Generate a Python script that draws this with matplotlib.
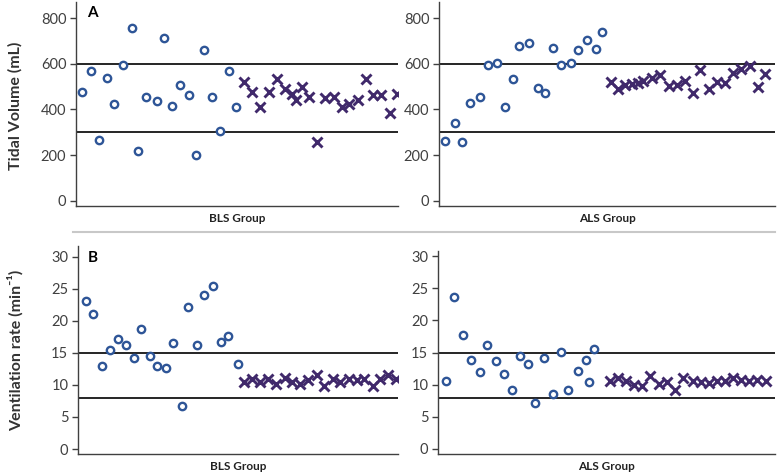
import matplotlib
matplotlib.use('Agg')
import matplotlib.pyplot as plt
from matplotlib.lines import Line2D

plt.rcParams['font.family'] = ['Lato', 'DejaVu Sans']

# x positions in "subject slot" units from each y axis
# --- A: tidal volume (mL) ---
bls_tv_circ_x = [0.8, 1.9, 2.9, 3.9, 4.8, 5.9, 7.0, 7.8, 8.8, 10.1,
                 11.0, 12.0, 13.0, 14.1, 15.0, 16.0, 17.0, 18.0, 19.1, 20.0]
bls_tv_circ = [478, 568, 265, 538, 425, 593, 756, 217, 453, 435,
               711, 416, 507, 463, 199, 659, 453, 305, 568, 412]
bls_tv_cross_x = [21.0, 22.0, 23.0, 24.1, 25.1, 26.1, 27.0, 27.5, 28.2, 29.1, 30.1,
                  31.1, 32.2, 33.2, 34.1, 35.2, 36.2, 37.1, 38.1, 39.2, 40.1]
bls_tv_cross = [520, 476, 410, 478, 532, 491, 469, 441, 498, 456, 258,
                451, 456, 412, 426, 440, 532, 463, 463, 385, 466]

als_tv_circ_x = [0.8, 2.0, 2.9, 3.9, 5.1, 6.1, 7.3, 8.2, 9.3, 10.0,
                 11.2, 12.4, 13.3, 14.3, 15.3, 16.5, 17.4, 18.5, 19.6, 20.4]
als_tv_circ = [263, 340, 256, 429, 456, 595, 602, 412, 533, 678,
               690, 495, 472, 668, 595, 602, 659, 705, 665, 740]
als_tv_cross_x = [21.5, 22.4, 23.3, 24.1, 24.9, 25.5, 26.6, 27.6, 28.7, 29.7, 30.8,
                  31.8, 32.6, 33.7, 34.7, 35.8, 36.8, 37.8, 38.9, 39.9, 40.8]
als_tv_cross = [520, 491, 505, 510, 514, 524, 539, 549, 502, 505, 524,
                470, 573, 488, 520, 514, 558, 579, 590, 500, 554]

# --- B: ventilation rate (min-1) ---
bls_vr_circ_x = [1.0, 1.9, 3.0, 4.0, 5.0, 6.0, 7.0, 7.9, 9.0, 9.9,
                 11.0, 11.9, 13.0, 13.8, 14.9, 15.8, 16.9, 17.9, 18.8, 20.0]
bls_vr_circ = [23.1, 21.1, 12.9, 15.5, 17.2, 16.2, 14.2, 18.7, 14.5, 12.9,
               12.6, 16.6, 6.7, 22.1, 16.3, 24.1, 25.5, 16.7, 17.7, 13.2]
bls_vr_cross_x = [20.8, 21.8, 22.8, 23.8, 24.8, 25.9, 26.8, 27.8, 28.8, 29.9,
                  30.8, 31.9, 32.8, 33.9, 34.9, 35.8, 36.9, 37.8, 38.8, 39.8]
bls_vr_cross = [10.4, 10.9, 10.5, 11.0, 10.2, 11.1, 10.5, 10.1, 10.7, 11.5,
                9.9, 11.0, 10.4, 11.0, 10.8, 11.0, 9.9, 10.9, 11.5, 11.0]

als_vr_circ_x = [1.0, 2.0, 3.1, 4.1, 5.2, 6.1, 7.3, 8.3, 9.3, 10.3,
                 11.3, 12.2, 13.3, 14.4, 15.4, 16.3, 17.5, 18.5, 18.9, 19.5]
als_vr_circ = [10.6, 23.6, 17.7, 13.9, 11.9, 16.2, 13.75, 11.7, 9.1, 14.4,
               13.2, 7.1, 14.1, 8.6, 15.1, 9.1, 12.15, 13.9, 10.4, 15.6]
als_vr_cross_x = [21.5, 22.5, 23.5, 24.5, 25.6, 26.6, 27.7, 28.7, 29.7, 30.7,
                  31.9, 32.9, 33.9, 34.9, 35.9, 36.9, 37.9, 38.9, 40.0, 41.1]
als_vr_cross = [10.5, 11.1, 10.6, 10.0, 9.8, 11.3, 10.1, 10.4, 9.2, 11.1,
                10.5, 10.35, 10.25, 10.5, 10.5, 11.0, 10.8, 10.5, 10.8, 10.6]

tv_limits = [300, 600]
vr_limits = [8, 15]

W, H = 778, 476
fig = plt.figure(figsize=(W / 100, H / 100), dpi=100)


def rect(l, t, r, b):
    return [l / W, 1 - b / H, (r - l) / W, (b - t) / H]


def panel(pos, xlim, ylim, yticks, cx, cy, xx, xy, lims, group):
    ax = fig.add_axes(rect(*pos))
    ax.plot(cx, cy, 'o', ms=5.3, mfc='white', mec='#2e5597', mew=1.7, ls='none')
    ax.plot(xx, xy, 'x', ms=6.5, mec='#40296b', mew=2.1, ls='none')
    for v in lims:
        ax.axhline(v, color='black', lw=1.2, zorder=0)
    ax.set_xlim(*xlim)
    ax.set_ylim(*ylim)
    ax.set_yticks(yticks)
    ax.set_xticks([])
    for s in ['top', 'right']:
        ax.spines[s].set_visible(False)
    for s in ['left', 'bottom']:
        ax.spines[s].set_color('#404040')
        ax.spines[s].set_linewidth(1.0)
    ax.tick_params(axis='y', direction='out', length=4, width=1, color='#404040',
                   labelcolor='#404040', labelsize=10.5, pad=3)
    ax.set_xlabel(group, fontsize=8.5, fontweight='bold', color='#222222', labelpad=5)
    return ax


panel((76, 2, 398, 206), (0, 40.25), (-22, 870), [0, 200, 400, 600, 800],
      bls_tv_circ_x, bls_tv_circ, bls_tv_cross_x, bls_tv_cross, tv_limits, 'BLS Group')
panel((439, 2, 775, 206), (0, 42), (-22, 870), [0, 200, 400, 600, 800],
      als_tv_circ_x, als_tv_circ, als_tv_cross_x, als_tv_cross, tv_limits, 'ALS Group')
panel((78, 246, 398, 454), (0, 40), (-0.78, 31.7), [0, 5, 10, 15, 20, 25, 30],
      bls_vr_circ_x, bls_vr_circ, bls_vr_cross_x, bls_vr_cross, vr_limits, 'BLS Group')
panel((438, 251, 775, 454), (0, 42.2), (-0.78, 30.8), [0, 5, 10, 15, 20, 25, 30],
      als_vr_circ_x, als_vr_circ, als_vr_cross_x, als_vr_cross, vr_limits, 'ALS Group')

fig.text(92 / W, 1 - 13 / H, 'A', fontsize=11, fontweight='bold', ha='center', va='center')
fig.text(93 / W, 1 - 258 / H, 'B', fontsize=11, fontweight='bold', ha='center', va='center')

fig.text(15 / W, 1 - 106 / H, 'Tidal Volume (mL)', rotation=90, fontsize=11.5,
         fontweight='bold', color='#333333', ha='center', va='center')
fig.text(15 / W, 1 - 350 / H, 'Ventilation rate (min⁻¹)', rotation=90, fontsize=11.5,
         fontweight='bold', color='#333333', ha='center', va='center')

fig.add_artist(Line2D([73 / W, 775 / W], [1 - 232 / H, 1 - 232 / H], color='#c8c8c8', lw=1.5))

fig.savefig('out.png', dpi=100)
